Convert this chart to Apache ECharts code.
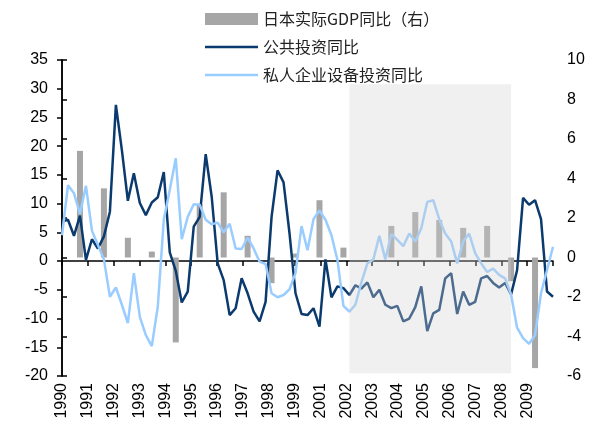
<!DOCTYPE html>
<html>
<head>
<meta charset="utf-8">
<script src="https://cdn.jsdelivr.net/npm/echarts@6/dist/echarts.min.js"></script>
<style>
  html, body { margin: 0; padding: 0; background: #fff; }
  #chart { width: 599px; height: 432px; }
</style>
</head>
<body>
<div id="chart"></div>
<script>
// 季度数据 1990Q1 起，共 83 个点
const years = [];
for (let y = 1990; y <= 2010; y++) years.push(y);
const quarters = [];
years.forEach(y => ['Q1', 'Q2', 'Q3', 'Q4'].forEach(q => quarters.push(y + q)));
const categories = quarters.slice(0, 83);

// 横轴刻度文字（原图中缺 2000）
const yearLabels = ['1990', '1991', '1992', '1993', '1994', '1995', '1996', '1997', '1998', '1999',
  '2001', '2002', '2003', '2004', '2005', '2006', '2007', '2008', '2009'];

// 公共投资同比（左轴）
const publicInv = [
  6.9, 7.2, 4.4, 7.9, 0.2, 3.8, 2.2, 4.3, 8.6, 27.2,
  19.3, 10.5, 15.3, 10.1, 8.0, 10.2, 11.1, 15.5, 1.5, -1.7,
  -7.2, -5.3, 6.0, 7.7, 18.6, 11.2, -0.4, -3.3, -9.4, -8.2,
  -3.0, -5.6, -8.8, -10.5, -7.1, 7.7, 15.8, 13.7, 4.8, -5.6,
  -9.2, -9.4, -8.2, -11.4, 0.3, -6.3, -4.4, -4.7, -5.9, -4.2,
  -4.8, -3.7, -6.3, -5.0, -7.6, -8.2, -7.8, -10.5, -10.0, -8.0,
  -4.4, -12.2, -9.1, -8.5, -3.0, -2.1, -9.2, -5.3, -7.6, -7.1,
  -3.0, -2.6, -3.8, -4.6, -3.8, -5.8, -1.6, 11.0, 9.8, 10.6,
  7.3, -5.3, -6.2
];

// 私人企业设备投资同比（左轴）
const privateInv = [
  4.5, 13.2, 11.8, 8.2, 13.1, 5.3, 2.8, 0.3, -6.2, -4.6,
  -7.6, -10.8, -2.1, -9.7, -12.9, -14.8, -7.9, 7.2, 12.4, 17.9,
  3.8, 7.7, 9.9, 9.8, 7.2, 6.4, 6.7, 5.0, 6.5, 2.2,
  2.1, 4.1, 2.2, -0.1, -0.5, -5.6, -6.3, -5.9, -4.9, -2.1,
  6.1, 1.9, 7.3, 8.8, 7.2, 4.5, 0.2, -7.8, -8.8, -7.6,
  -3.7, -0.4, 0.3, 4.4, 0.3, 4.7, 3.7, 2.6, 4.8, 3.4,
  5.7, 10.3, 10.6, 7.3, 4.8, 3.4, -0.4, 3.4, 4.8, 1.4,
  -0.4, -1.9, -1.3, -2.4, -3.0, -5.8, -11.6, -13.4, -14.4, -12.9,
  -5.6, -1.6, 2.5
];

// 日本实际GDP同比（右轴），每年一个值，画在第四季度
const gdp = [5.4, 3.5, 1.0, 0.3, -4.3, 2.7, 3.3, 1.1, -1.3, 0.2,
  2.9, 0.5, 0.0, 1.6, 2.3, 1.9, 1.5, 1.6, -1.2, -5.6];

// 阴影区间
const shadeFrom = 48, shadeTo = 75;

const gdpSeries = categories.map((c, i) => (i % 4 === 3 && gdp[(i - 3) / 4] !== undefined) ? gdp[(i - 3) / 4] : null);

const font = 'Liberation Sans, Arial, sans-serif';
// 图例里的线：细长条，保持比例
const lineIcon = 'path://M0,0L53,0L53,2.5L0,2.5Z';
const chart = echarts.init(document.getElementById('chart'));

const option = {
  animation: false,
  backgroundColor: '#fff',
  grid: { left: 62, right: 46, top: 60, bottom: 56 },
  legend: {
    orient: 'vertical',
    left: 200,
    top: 6,
    itemGap: 12,
    itemWidth: 53,
    itemHeight: 12,
    textStyle: { fontFamily: 'Noto Sans CJK SC', fontSize: 16, color: '#222' },
    data: [
      { name: '日本实际GDP同比（右）', icon: 'rect' },
      { name: '公共投资同比', icon: lineIcon },
      { name: '私人企业设备投资同比', icon: lineIcon }
    ]
  },
  xAxis: [
    {
      type: 'category',
      data: categories,
      boundaryGap: false,
      show: false
    },
    {
      // 零线和刻度
      type: 'value',
      min: 0, max: 19, interval: 1,
      position: 'bottom',
      axisLine: { onZero: true, onZeroAxisIndex: 0, lineStyle: { color: '#000', width: 1.5 } },
      axisTick: { show: true, length: 5, lineStyle: { color: '#000', width: 1.5 } },
      axisLabel: { show: false },
      splitLine: { show: false }
    },
    {
      // 底部年份
      type: 'value',
      min: 0, max: 19, interval: 1,
      position: 'bottom',
      axisLine: { show: false, onZero: false },
      axisTick: { show: false },
      splitLine: { show: false },
      axisLabel: {
        rotate: 90,
        margin: 7,
        fontFamily: font,
        fontSize: 16,
        color: '#000',
        formatter: v => yearLabels[v] || ''
      }
    }
  ],
  yAxis: [
    {
      type: 'value',
      min: -20, max: 35, interval: 5,
      axisLine: { show: true, lineStyle: { color: '#000', width: 1.5 } },
      axisTick: { show: true, length: 5, lineStyle: { color: '#000', width: 1.5 } },
      axisLabel: { fontFamily: font, fontSize: 16, color: '#000', margin: 14 },
      splitLine: { show: false }
    },
    {
      type: 'value',
      min: -6, max: 10, interval: 2,
      position: 'right',
      axisLine: { show: true, lineStyle: { color: '#000', width: 1.5 } },
      axisTick: { show: true, length: 5, lineStyle: { color: '#000', width: 1.5 } },
      axisLabel: { fontFamily: font, fontSize: 16, color: '#000', margin: 14 },
      splitLine: { show: false }
    }
  ],
  series: [
    {
      name: '日本实际GDP同比（右）',
      type: 'bar',
      xAxisIndex: 0,
      yAxisIndex: 1,
      data: gdpSeries,
      barWidth: 6,
      itemStyle: { color: '#a6a6a6' }
    },
    {
      name: '公共投资同比',
      type: 'line',
      xAxisIndex: 0,
      yAxisIndex: 0,
      data: publicInv,
      symbol: 'none',
      lineStyle: { color: '#0b3a6e', width: 2.5 },
      itemStyle: { color: '#0b3a6e' }
    },
    {
      name: '私人企业设备投资同比',
      type: 'line',
      xAxisIndex: 0,
      yAxisIndex: 0,
      data: privateInv,
      symbol: 'none',
      lineStyle: { color: '#99ccff', width: 2.5 },
      itemStyle: { color: '#99ccff' },
      markArea: {
        silent: true,
        z: 10,
        itemStyle: { color: 'rgba(210,210,210,0.33)' },
        data: [[
          { xAxis: categories[shadeFrom], yAxis: 30.8 },
          { xAxis: categories[shadeTo], yAxis: -19.5 }
        ]]
      }
    }
  ]
};

chart.setOption(option);
</script>
</body>
</html>
